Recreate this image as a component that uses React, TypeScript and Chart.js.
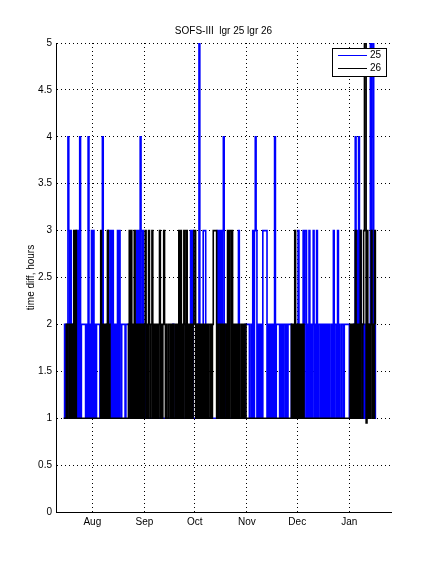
import { useEffect, useRef } from 'react';
import { Chart, registerables } from 'chart.js';

Chart.register(...registerables);

const chartTitle = 'SOFS-III  lgr 25 lgr 26';
const yAxisTitle = 'time diff, hours';
const seriesNames = ['25', '26'];
const seriesColors = ['#0000ff', '#000000'];

// x axis in days since 1 Jul 2012
const monthTickDays = [31, 62, 92, 123, 153, 184];
const monthTickLabels = ['Aug', 'Sep', 'Oct', 'Nov', 'Dec', 'Jan'];
const xMinDay = 9.39;
const xMaxDay = 208.8;
const yTickValues = [0, 0.5, 1, 1.5, 2, 2.5, 3, 3.5, 4, 4.5, 5];

// samples every half day starting at day 14; each char is a time diff in hours ('0' = 0.95)
const sampleStartDay = 14;
const sampleStepDays = 0.5;

const lgr25Values = [
  '121214', '313121', '121313', '141222', '221214', '121313', '121222', '212141',
  '111213', '313131', '212131', '321222', '212222', '111111', '111323', '243232',
  '211111', '111111', '111111', '111111', '111111', '111121', '111111', '111111',
  '121111', '132311', '111215', '111133', '311111', '111111', '111313', '232342',
  '211111', '111111', '111131', '111111', '222221', '121313', '431212', '121333',
  '331212', '121214', '122221', '212122', '121222', '211111', '111311', '111313',
  '312131', '212312', '131221', '212121', '212121', '121312', '213121', '122122',
  '222211', '111214', '232423', '212121', '121215', '245212',
];

const lgr26Values = [
  '111212', '212121', '313111', '111111', '111111', '111111', '111111', '113121',
  '212131', '211111', '111111', '111111', '111112', '313121', '312121', '212121',
  '231213', '212312', '121212', '312123', '212112', '212121', '121213', '131213',
  '213121', '212123', '312121', '212121', '212121', '121233', '331212', '212121',
  '121313', '313121', '212121', '121212', '211111', '111111', '111111', '111111',
  '111111', '111111', '111111', '111111', '111111', '121213', '121212', '121211',
  '111111', '111111', '111111', '111111', '111111', '111111', '111111', '111111',
  '111112', '121213', '121213', '212355', '031212', '312132',
];

const FONT = 'Liberation Sans, Arial, Helvetica, sans-serif';

function toPoints(chunks: string[]) {
  return chunks
    .join('')
    .split('')
    .map((c, i) => ({ x: sampleStartDay + i * sampleStepDays, y: c === '0' ? 0.95 : Number(c) }));
}

const overlayPlugin = {
  id: 'matlabOverlay',
  afterDraw(chart: any) {
    const { ctx, chartArea } = chart;
    ctx.save();
    ctx.fillStyle = '#000';
    ctx.font = `10px ${FONT}`;
    ctx.textAlign = 'center';
    ctx.textBaseline = 'middle';
    ctx.fillText(chartTitle, (chartArea.left + chartArea.right) / 2, 31.5);
    const bx = 332.5, by = 48.5, bw = 54, bh = 28;
    ctx.fillStyle = '#fff';
    ctx.fillRect(bx, by, bw, bh);
    ctx.strokeStyle = '#000';
    ctx.lineWidth = 1;
    ctx.strokeRect(bx, by, bw, bh);
    const rows = [55, 68];
    seriesNames.forEach((name, i) => {
      ctx.fillStyle = seriesColors[i];
      ctx.fillRect(338, rows[i], 29, 1);
      ctx.fillStyle = '#000';
      ctx.textAlign = 'left';
      ctx.textBaseline = 'middle';
      ctx.fillText(name, 370, rows[i] + 0.5);
    });
    ctx.restore();
  },
};

export default function App() {
  const ref = useRef<HTMLCanvasElement | null>(null);

  useEffect(() => {
    if (!ref.current) return;
    const chart = new Chart(ref.current, {
      type: 'line',
      data: {
        datasets: [
          {
            label: seriesNames[0],
            data: toPoints(lgr25Values),
            borderColor: seriesColors[0],
            borderWidth: 1.6,
            pointRadius: 0,
            stepped: 'before',
            order: 1,
          },
          {
            label: seriesNames[1],
            data: toPoints(lgr26Values),
            borderColor: seriesColors[1],
            borderWidth: 1.6,
            pointRadius: 0,
            stepped: 'before',
            order: 0,
          },
        ],
      },
      options: {
        animation: false,
        responsive: false,
        parsing: false as any,
        layout: { padding: { top: 43, right: 41, left: 0, bottom: 0 } },
        plugins: {
          legend: { display: false },
          title: { display: false },
          tooltip: { enabled: false },
        },
        scales: {
          x: {
            type: 'linear',
            min: xMinDay,
            max: xMaxDay,
            afterBuildTicks: (scale: any) => {
              scale.ticks = monthTickDays.map((v) => ({ value: v }));
            },
            afterFit: (scale: any) => {
              scale.height = 64;
            },
            ticks: {
              autoSkip: false,
              maxRotation: 0,
              padding: 4,
              color: '#000',
              font: { family: FONT, size: 10 },
              callback: (value: any) => {
                const idx = monthTickDays.indexOf(Number(value));
                return idx >= 0 ? monthTickLabels[idx] : '';
              },
            },
            grid: { color: '#000', lineWidth: 1, drawTicks: false },
            border: { display: true, color: '#000', width: 1, dash: [1, 3] },
          },
          y: {
            type: 'linear',
            min: 0,
            max: 5,
            afterBuildTicks: (scale: any) => {
              scale.ticks = yTickValues.map((v) => ({ value: v }));
            },
            afterFit: (scale: any) => {
              scale.width = 56;
            },
            ticks: {
              padding: 4,
              color: '#000',
              font: { family: FONT, size: 10 },
              callback: (value: any) => String(value),
            },
            title: {
              display: true,
              text: yAxisTitle,
              color: '#000',
              font: { family: FONT, size: 10 },
              padding: { top: 25, bottom: 0 },
            },
            grid: { color: '#000', lineWidth: 1, drawTicks: false },
            border: { display: true, color: '#000', width: 1, dash: [1, 3] },
          },
        },
      },
      plugins: [overlayPlugin],
    });
    return () => chart.destroy();
  }, []);

  return (
    <div style={{ position: 'absolute', left: 0, top: 0, width: 432, height: 576, background: '#fff' }}>
      <canvas ref={ref} width={432} height={576} style={{ display: 'block' }} />
    </div>
  );
}
